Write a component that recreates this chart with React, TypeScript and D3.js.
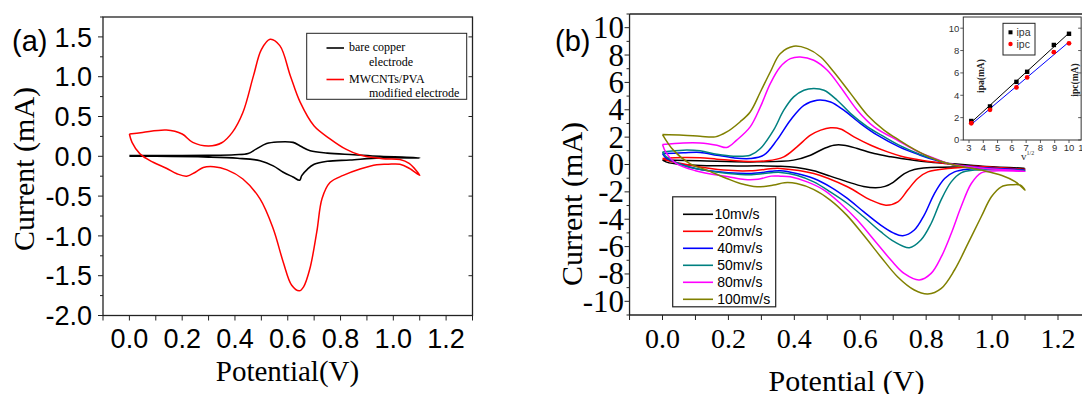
import React from "react";
import * as d3 from "d3";

type P = [number, number];

// ---------- Panel (a) data: [potential V, current mA], forward then reverse scan ----------
const aBareCopper: P[] = [
  [0.0, 0.01], [0.1, 0.01], [0.2, 0.01], [0.3, 0.012], [0.4, 0.02], [0.45, 0.035], [0.48, 0.09],
  [0.52, 0.16], [0.56, 0.18], [0.62, 0.175], [0.647, 0.13], [0.685, 0.07], [0.75, 0.04], [0.85, 0.02],
  [0.95, 0.0], [1.1, -0.02],
  [0.95, -0.02], [0.836, -0.046], [0.75, -0.063], [0.7, -0.1], [0.675, -0.16], [0.653, -0.243],
  [0.645, -0.3], [0.62, -0.26], [0.583, -0.2], [0.545, -0.12], [0.495, -0.055], [0.41, -0.025],
  [0.3, -0.01], [0.1, 0.0], [0.0, 0.0],
];
const aModified: P[] = [
  [0.0, 0.28], [0.05, 0.3], [0.14, 0.33], [0.2, 0.28], [0.24, 0.175], [0.3, 0.13], [0.35, 0.17],
  [0.39, 0.3], [0.43, 0.55], [0.47, 1.01], [0.5, 1.34], [0.533, 1.47], [0.57, 1.39], [0.61, 1.01],
  [0.647, 0.68], [0.7, 0.38], [0.76, 0.22], [0.82, 0.09], [0.874, 0.016], [0.96, -0.03], [1.025, -0.04],
  [1.06, -0.09], [1.1, -0.24],
  [1.06, -0.15], [1.025, -0.1], [0.98, -0.1], [0.937, -0.105], [0.874, -0.16], [0.81, -0.24],
  [0.76, -0.33], [0.73, -0.53], [0.71, -0.95], [0.684, -1.41], [0.66, -1.64], [0.644, -1.69],
  [0.615, -1.62], [0.583, -1.33], [0.545, -0.91], [0.495, -0.535], [0.43, -0.285], [0.37, -0.17],
  [0.32, -0.13], [0.28, -0.14], [0.25, -0.2], [0.217, -0.25], [0.18, -0.22], [0.14, -0.15],
  [0.09, -0.075], [0.04, 0.03], [0.01, 0.175], [0.0, 0.28],
];
const aXTicks = [0.0, 0.2, 0.4, 0.6, 0.8, 1.0, 1.2];
const aYTicks = [-2.0, -1.5, -1.0, -0.5, 0.0, 0.5, 1.0, 1.5];

// ---------- Panel (b) data ----------
const b10: P[] = [
  [0, 0.32], [0.114, 0.27], [0.266, 0.19], [0.398, 0.32], [0.449, 0.68], [0.49, 1.17], [0.52, 1.41],
  [0.55, 1.41], [0.591, 1.17], [0.642, 0.8], [0.693, 0.56], [0.724, 0.44], [0.8, 0.2], [0.88, 0.05],
  [0.97, -0.12], [1.1, -0.28],
  [0.967, -0.22], [0.85, -0.2], [0.764, -0.36], [0.734, -0.66], [0.7, -1.3], [0.675, -1.6],
  [0.647, -1.7], [0.61, -1.6], [0.561, -1.27], [0.509, -0.85], [0.459, -0.46], [0.407, -0.22],
  [0.358, -0.12], [0.3, -0.1], [0.2, -0.1], [0.1, -0.05], [0.02, 0.12], [0, 0.32],
];
const b20: P[] = [
  [0, 0.44], [0.063, 0.51], [0.114, 0.49], [0.165, 0.39], [0.246, 0.24], [0.317, 0.27], [0.368, 0.56],
  [0.408, 1.29], [0.449, 2.14], [0.48, 2.51], [0.51, 2.68], [0.54, 2.6], [0.581, 2.02], [0.632, 1.41],
  [0.683, 0.92], [0.724, 0.61], [0.79, 0.3], [0.85, 0.1], [0.9, -0.05], [1.0, -0.2], [1.1, -0.35],
  [0.967, -0.2], [0.866, -0.29], [0.805, -0.54], [0.774, -1.02], [0.744, -1.87], [0.714, -2.73],
  [0.678, -2.97], [0.632, -2.6], [0.561, -1.63], [0.459, -0.66], [0.358, -0.29], [0.337, -0.29],
  [0.266, -0.46], [0.185, -0.41], [0.083, -0.05], [0.02, 0.25], [0, 0.44],
];
const b40: P[] = [
  [0, 0.8], [0.063, 0.85], [0.114, 0.88], [0.165, 0.68], [0.215, 0.49], [0.266, 0.44], [0.307, 0.68],
  [0.347, 1.78], [0.388, 3.24], [0.429, 4.33], [0.469, 4.7], [0.51, 4.57], [0.55, 3.97], [0.601, 2.99],
  [0.652, 2.14], [0.718, 1.29], [0.78, 0.7], [0.83, 0.3], [0.88, 0.0], [0.967, -0.22], [1.1, -0.4],
  [0.967, -0.3], [0.927, -0.34], [0.886, -0.54], [0.856, -1.02], [0.825, -2.12], [0.794, -3.7],
  [0.764, -4.79], [0.729, -5.21], [0.7, -5.0], [0.662, -4.43], [0.61, -3.45], [0.561, -2.48],
  [0.509, -1.63], [0.459, -1.02], [0.407, -0.66], [0.358, -0.46], [0.33, -0.5], [0.27, -0.65],
  [0.2, -0.6], [0.1, -0.3], [0.04, 0.15], [0.01, 0.5], [0, 0.8],
];
const b50: P[] = [
  [0, 0.92], [0.063, 1.05], [0.114, 1.0], [0.165, 0.75], [0.215, 0.61], [0.266, 0.68], [0.297, 1.17],
  [0.337, 2.51], [0.368, 3.97], [0.398, 4.94], [0.429, 5.43], [0.459, 5.55], [0.49, 5.43], [0.53, 4.7],
  [0.571, 3.72], [0.622, 2.75], [0.673, 2.02], [0.724, 1.34], [0.78, 0.75], [0.83, 0.35], [0.88, 0.0],
  [0.967, -0.25], [1.1, -0.45],
  [1.0, -0.38], [0.947, -0.41], [0.906, -0.61], [0.876, -1.27], [0.845, -2.6], [0.815, -4.31],
  [0.784, -5.52], [0.749, -6.08], [0.703, -5.64], [0.662, -4.91], [0.61, -3.82], [0.561, -2.85],
  [0.509, -2.0], [0.459, -1.27], [0.407, -0.78], [0.358, -0.58], [0.33, -0.6], [0.27, -0.75],
  [0.2, -0.65], [0.1, -0.3], [0.04, 0.15], [0.01, 0.6], [0, 0.92],
];
const b80: P[] = [
  [0, 1.46], [0.063, 1.58], [0.114, 1.58], [0.165, 1.41], [0.195, 1.24], [0.225, 1.78], [0.266, 2.75],
  [0.297, 4.21], [0.327, 5.91], [0.357, 7.13], [0.388, 7.74], [0.418, 7.86], [0.459, 7.62], [0.5, 6.89],
  [0.54, 5.67], [0.591, 3.97], [0.642, 2.75], [0.718, 1.7], [0.77, 1.0], [0.82, 0.5], [0.87, 0.05],
  [0.967, -0.25], [1.1, -0.5],
  [1.018, -0.46], [0.967, -0.61], [0.937, -1.39], [0.906, -3.09], [0.876, -5.04], [0.846, -6.74],
  [0.815, -7.96], [0.779, -8.44], [0.733, -7.96], [0.693, -6.98], [0.642, -5.52], [0.591, -4.06],
  [0.54, -2.85], [0.49, -1.87], [0.439, -1.27], [0.388, -0.9], [0.358, -0.85], [0.33, -0.85],
  [0.29, -1.08], [0.25, -1.1], [0.2, -0.9], [0.1, -0.45], [0.04, 0.1], [0.01, 0.9], [0, 1.46],
];
const b100: P[] = [
  [0, 2.19], [0.063, 2.14], [0.114, 2.07], [0.16, 2.02], [0.195, 2.38], [0.235, 3.11], [0.266, 3.84],
  [0.297, 5.3], [0.327, 6.76], [0.357, 8.1], [0.398, 8.64], [0.439, 8.47], [0.48, 7.86], [0.52, 6.76],
  [0.571, 5.18], [0.622, 3.6], [0.673, 2.5], [0.718, 1.78], [0.764, 1.1], [0.81, 0.55], [0.866, 0.07],
  [0.967, -0.41], [1.03, -0.8], [1.07, -1.25], [1.1, -1.87],
  [1.085, -1.5], [1.06, -1.48], [1.028, -1.63], [0.998, -2.36], [0.967, -3.82], [0.927, -5.77],
  [0.886, -7.71], [0.846, -9.05], [0.805, -9.46], [0.764, -9.17], [0.713, -8.2], [0.662, -6.74],
  [0.61, -5.16], [0.559, -3.7], [0.509, -2.6], [0.458, -1.82], [0.407, -1.39], [0.37, -1.33],
  [0.337, -1.5], [0.287, -1.63], [0.236, -1.39], [0.195, -1.02], [0.134, -0.41], [0.083, 0.07],
  [0.033, 1.05], [0, 2.19],
];
const bLabels = ["10mv/s", "20mv/s", "40mv/s", "50mv/s", "80mv/s", "100mv/s"];
const bColors = ["#000000", "#ff0000", "#0000ff", "#008080", "#ff00ff", "#808000"];
const bData = [b10, b20, b40, b50, b80, b100];
const bXTicks = [0.0, 0.2, 0.4, 0.6, 0.8, 1.0, 1.2];
const bYTicks = [-10, -8, -6, -4, -2, 0, 2, 4, 6, 8, 10];

// ---------- Inset data ----------
const insetSqrtV = [3.16, 4.47, 6.32, 7.07, 8.94, 10];
const insetIpa = [1.7, 3.0, 5.2, 6.1, 8.5, 9.5];
const insetIpc = [1.5, 2.7, 4.7, 5.6, 7.85, 8.65];
const insetXTicks = [3, 4, 5, 6, 7, 8, 9, 10, 11];
const insetYTicks = [0, 2, 4, 6, 8, 10];

const SANS = "'Liberation Sans', Arial, sans-serif";
const SERIF = "'Liberation Serif', 'Times New Roman', serif";
const fmt1 = (v: number) => d3.format(".1f")(v).replace("−", "-");
const fmt0 = (v: number) => d3.format("d")(v).replace("−", "-");

function fit(xs: number[], ys: number[]) {
  const mx = d3.mean(xs)!, my = d3.mean(ys)!;
  const sxy = d3.sum(xs.map((x, i) => (x - mx) * (ys[i] - my)));
  const sxx = d3.sum(xs.map((x) => (x - mx) * (x - mx)));
  const k = sxy / sxx;
  return (x: number) => my + k * (x - mx);
}

function PanelA() {
  const x = d3.scaleLinear().domain([-0.1, 1.3]).range([103, 472.5]);
  const y = d3.scaleLinear().domain([-2.0, 1.75]).range([315.5, 17]);
  const line = d3.line<P>().x((d) => x(d[0])).y((d) => y(d[1])).curve(d3.curveCatmullRom.alpha(0.5));
  const x0 = x(-0.1), x1 = x(1.3), y0 = y(-2.0), y1 = y(1.75);
  const xMinor = d3.range(-0.1, 1.31, 0.1);
  const yMinor = d3.range(-2.0, 1.76, 0.25);
  return (
    <g>
      <path d={line(aBareCopper)!} fill="none" stroke="#000" strokeWidth={1.6} />
      <path d={line(aModified)!} fill="none" stroke="#ff0000" strokeWidth={1.5} />
      <rect x={x0} y={y1} width={x1 - x0} height={y0 - y1} fill="none" stroke="#222" strokeWidth={1.3} />
      {xMinor.map((v, i) => (
        <line key={"xm" + i} x1={x(v)} x2={x(v)} y1={y0} y2={y0 + 5} stroke="#222" strokeWidth={1} />
      ))}
      {yMinor.map((v, i) => (
        <line key={"ym" + i} x1={x0} x2={x0 - (Math.abs((v * 2) % 1) < 1e-6 ? 5 : 3)} y1={y(v)} y2={y(v)} stroke="#222" strokeWidth={1} />
      ))}
      {aYTicks.map((v) => (
        <line key={"yr" + v} x1={x1} x2={x1 - 4} y1={y(v)} y2={y(v)} stroke="#222" strokeWidth={1} />
      ))}
      {aXTicks.map((v) => (
        <text key={"xt" + v} x={x(v)} y={348} textAnchor="middle" fontFamily={SANS} fontSize={27} fill="#000">
          {fmt1(v)}
        </text>
      ))}
      {aYTicks.map((v) => (
        <text key={"yt" + v} x={92} y={y(v)} dy="0.36em" textAnchor="end" fontFamily={SANS} fontSize={27} fill="#000">
          {fmt1(v)}
        </text>
      ))}
      <text x={287.5} y={381} textAnchor="middle" fontFamily={SERIF} fontSize={29}>Potential(V)</text>
      <text transform="translate(34,169) rotate(-90)" textAnchor="middle" fontFamily={SERIF} fontSize={30}>Current (mA)</text>
      <text x={12} y={50.5} fontFamily={SANS} fontSize={29}>(a)</text>
      {/* legend */}
      <rect x={306.7} y={33.3} width={160} height={66} fill="#fff" stroke="#222" strokeWidth={1} />
      <line x1={326.5} x2={344} y1={48} y2={48} stroke="#000" strokeWidth={1.6} />
      <line x1={326.5} x2={344} y1={79.5} y2={79.5} stroke="#ff0000" strokeWidth={1.6} />
      <text x={349} y={51.2} fontFamily={SERIF} fontSize={12}>bare copper</text>
      <text x={369} y={65.5} fontFamily={SERIF} fontSize={12}>electrode</text>
      <text x={349} y={83.3} fontFamily={SERIF} fontSize={12}>MWCNTs/PVA</text>
      <text x={369} y={97} fontFamily={SERIF} fontSize={12}>modified electrode</text>
    </g>
  );
}

function Inset() {
  const x = d3.scaleLinear().domain([3, 10]).range([969, 1069]);
  const y = d3.scaleLinear().domain([0, 11]).range([140, 17]);
  const xl = x(2.6), xr = x(10.85), yb = y(0), yt = y(11);
  const fa = fit(insetSqrtV, insetIpa);
  const fc = fit(insetSqrtV, insetIpc);
  const xs0 = insetSqrtV[0], xs1 = insetSqrtV[insetSqrtV.length - 1];
  return (
    <g>
      <rect x={xl} y={yt} width={xr - xl} height={yb - yt} fill="#fff" stroke="#333" strokeWidth={1} />
      {insetXTicks.map((v) => (
        <g key={"ix" + v}>
          <line x1={x(v)} x2={x(v)} y1={yb} y2={yb + 3} stroke="#333" strokeWidth={0.8} />
          <text x={x(v)} y={150.5} textAnchor="middle" fontFamily={SANS} fontSize={9.5} fill="#333">{v}</text>
        </g>
      ))}
      {insetYTicks.map((v) => (
        <g key={"iy" + v}>
          <line x1={xl} x2={xl - 3} y1={y(v)} y2={y(v)} stroke="#333" strokeWidth={0.8} />
          <line x1={xr} x2={xr - 3} y1={y(v)} y2={y(v)} stroke="#333" strokeWidth={0.8} />
          <text x={xl - 4} y={y(v)} dy="0.35em" textAnchor="end" fontFamily={SANS} fontSize={9.5} fill="#333">{v}</text>
        </g>
      ))}
      <line x1={x(xs0)} y1={y(fa(xs0))} x2={x(xs1)} y2={y(fa(xs1))} stroke="#000" strokeWidth={1} />
      <line x1={x(xs0)} y1={y(fc(xs0))} x2={x(xs1)} y2={y(fc(xs1))} stroke="#0000ff" strokeWidth={1} />
      {insetSqrtV.map((v, i) => (
        <rect key={"sa" + i} x={x(v) - 2.2} y={y(insetIpa[i]) - 2.2} width={4.4} height={4.4} fill="#000" />
      ))}
      {insetSqrtV.map((v, i) => (
        <circle key={"sc" + i} cx={x(v)} cy={y(insetIpc[i])} r={2.4} fill="#ff0000" />
      ))}
      <rect x={1003} y={23.3} width={32} height={31.7} fill="#fff" stroke="#222" strokeWidth={1} />
      <rect x={1008.5} y={30.3} width={4} height={4} fill="#000" />
      <circle cx={1010.5} cy={44} r={2.2} fill="#ff0000" />
      <text x={1016.5} y={36} fontFamily={SANS} fontSize={10.5} fill="#333">ipa</text>
      <text x={1016.5} y={47.8} fontFamily={SANS} fontSize={10.5} fill="#333">ipc</text>
      <text transform="translate(984,76) rotate(-90)" textAnchor="middle" fontFamily={SERIF} fontWeight="bold" fontSize={9.5} fill="#222">ipa(mA)</text>
      <text transform="translate(1077.5,80) rotate(-90)" textAnchor="middle" fontFamily={SERIF} fontWeight="bold" fontSize={9.5} fill="#222">ipc(mA)</text>
      <text x={1021} y={159.5} fontFamily={SERIF} fontSize={11} fill="#333">
        v<tspan fontSize={6} dy={-5}>1/2</tspan>
      </text>
    </g>
  );
}

function PanelB() {
  const x = d3.scaleLinear().domain([0, 1.2]).range([662.5, 1058]);
  const y = d3.scaleLinear().domain([-11, 11]).range([315, 14]);
  const line = d3.line<P>().x((d) => x(d[0])).y((d) => y(d[1])).curve(d3.curveCatmullRom.alpha(0.5));
  const x0 = x(-0.1), x1 = x(1.35), y0 = y(-11), y1 = y(11);
  const xMinor = d3.range(-0.1, 1.31, 0.1);
  const yMinor = d3.range(-11, 11.1, 1);
  return (
    <g>
      {bData.map((d, i) => (
        <path key={"c" + i} d={line(d)!} fill="none" stroke={bColors[i]} strokeWidth={1.5} />
      ))}
      <line x1={x0} x2={x1} y1={y0} y2={y0} stroke="#222" strokeWidth={1.3} />
      <line x1={x0} x2={x1} y1={y1} y2={y1} stroke="#222" strokeWidth={1.3} />
      <line x1={x0} x2={x0} y1={y0} y2={y1} stroke="#222" strokeWidth={1.3} />
      {xMinor.map((v, i) => (
        <line key={"xm" + i} x1={x(v)} x2={x(v)} y1={y0} y2={y0 + 5} stroke="#222" strokeWidth={1} />
      ))}
      {yMinor.map((v, i) => (
        <line key={"ym" + i} x1={x0} x2={x0 - (Math.round(v) % 2 === 0 ? 5 : 3)} y1={y(v)} y2={y(v)} stroke="#222" strokeWidth={1} />
      ))}
      {bXTicks.map((v) => (
        <text key={"xt" + v} x={x(v)} y={348} textAnchor="middle" fontFamily={SERIF} fontSize={28}>{fmt1(v)}</text>
      ))}
      {bYTicks.map((v) => (
        <text key={"yt" + v} x={624} y={y(v)} dy="0.34em" textAnchor="end" fontFamily={SERIF} fontSize={31}>{fmt0(v)}</text>
      ))}
      <text x={846.5} y={391} textAnchor="middle" fontFamily={SERIF} fontSize={30}>Potential (V)</text>
      <text transform="translate(582,204) rotate(-90)" textAnchor="middle" fontFamily={SERIF} fontSize={30}>Current (mA)</text>
      <text x={555} y={50.5} fontFamily={SANS} fontSize={29}>(b)</text>
      {/* legend */}
      <rect x={672.7} y={196.8} width={103} height={110} fill="#fff" stroke="#222" strokeWidth={1.2} />
      {bLabels.map((lab, i) => (
        <g key={"l" + i}>
          <line x1={683} x2={713} y1={214.3 + i * 17} y2={214.3 + i * 17} stroke={bColors[i]} strokeWidth={1.6} />
          <text x={i === 0 ? 714.5 : 717.3} y={214.3 + i * 17} dy="0.36em" fontFamily={SANS} fontSize={14}>{lab}</text>
        </g>
      ))}
      <Inset />
    </g>
  );
}

export default function App() {
  return (
    <svg
      width={1082}
      height={394}
      viewBox="0 0 1082 394"
      style={{ position: "absolute", left: 0, top: 0, background: "#fff" }}
    >
      <rect width={1082} height={394} fill="#fff" />
      <PanelA />
      <PanelB />
    </svg>
  );
}
